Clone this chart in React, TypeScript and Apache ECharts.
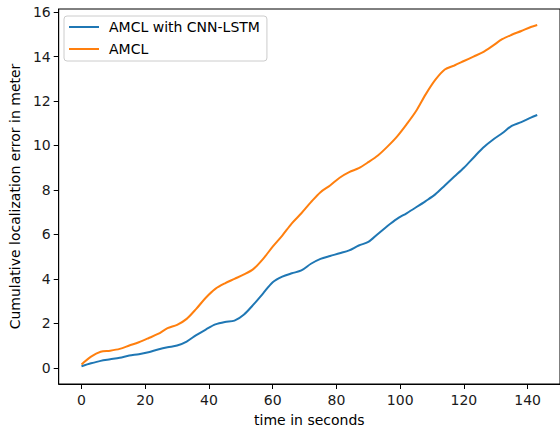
import React, { useEffect, useRef } from "react";
import * as echarts from "echarts";

const times = [0, 3, 6, 9, 12, 15, 18, 21, 24, 27, 30, 33, 36, 39, 42, 45, 48, 51, 54, 57, 60, 63, 66, 69, 72, 75, 78, 81, 84, 87, 90, 93, 96, 99, 102, 105, 108, 111, 114, 117, 120, 123, 126, 129, 132, 135, 138, 141, 143];
const cnnLstm = [0.07, 0.2, 0.31, 0.38, 0.45, 0.55, 0.61, 0.7, 0.82, 0.92, 1.0, 1.18, 1.47, 1.72, 1.95, 2.06, 2.12, 2.4, 2.85, 3.35, 3.85, 4.1, 4.25, 4.38, 4.68, 4.9, 5.03, 5.15, 5.28, 5.5, 5.66, 6.02, 6.38, 6.7, 6.95, 7.22, 7.5, 7.8, 8.2, 8.6, 9.0, 9.45, 9.9, 10.25, 10.55, 10.88, 11.05, 11.25, 11.37];
const amcl = [0.15, 0.5, 0.72, 0.77, 0.85, 1.0, 1.15, 1.33, 1.52, 1.78, 1.93, 2.2, 2.65, 3.15, 3.55, 3.8, 4.0, 4.2, 4.45, 4.9, 5.45, 5.95, 6.5, 6.95, 7.45, 7.9, 8.2, 8.55, 8.8, 8.98, 9.25, 9.55, 9.95, 10.4, 10.95, 11.55, 12.3, 12.95, 13.42, 13.6, 13.8, 14.0, 14.2, 14.48, 14.78, 14.98, 15.15, 15.33, 15.42];
const xTicks = [0, 20, 40, 60, 80, 100, 120, 140];
const yTicks = [0, 2, 4, 6, 8, 10, 12, 14, 16];
const seriesNames = ["AMCL with CNN-LSTM", "AMCL"];

const FONT = "DejaVu Sans";

export default function App() {
  const ref = useRef<HTMLDivElement>(null);
  useEffect(() => {
    if (!ref.current) return;
    const chart = echarts.init(ref.current, undefined, { renderer: "svg" });
    const pair = (vals: number[]) => times.map((t, i) => [t, vals[i]]);
    chart.setOption({
      animation: false,
      backgroundColor: "#ffffff",
      textStyle: { fontFamily: FONT },
      grid: {
        left: 58,
        top: 9,
        bottom: 46,
        right: -3,
        show: true,
        borderColor: "#000",
        borderWidth: 1,
        backgroundColor: "transparent",
      },
      legend: {
        left: 64,
        top: 16,
        orient: "vertical",
        icon: "rect",
        itemWidth: 30,
        itemHeight: 2,
        itemGap: 8,
        padding: [4, 7, 5, 5],
        borderColor: "#cccccc",
        borderWidth: 1,
        borderRadius: 3,
        backgroundColor: "rgba(255,255,255,0.8)",
        textStyle: { fontFamily: FONT, fontSize: 14, color: "#000", padding: [0, 0, 0, 5] },
        data: seriesNames,
      },
      xAxis: {
        type: "value",
        min: -7.15,
        max: 150.15,
        name: "time in seconds",
        nameLocation: "middle",
        nameGap: 29,
        nameTextStyle: { fontFamily: FONT, fontSize: 14, color: "#000" },
        axisLine: { show: true, onZero: false, lineStyle: { color: "#000", width: 1 } },
        axisTick: { show: true, length: 5, customValues: xTicks, lineStyle: { color: "#000" } },
        axisLabel: { customValues: xTicks, fontFamily: FONT, fontSize: 14, color: "#1a1a1a", margin: 9 },
        splitLine: { show: false },
      },
      yAxis: {
        type: "value",
        min: -0.73,
        max: 16.14,
        name: "Cumulative localization error in meter",
        nameLocation: "middle",
        nameGap: 36,
        nameTextStyle: { fontFamily: FONT, fontSize: 14, color: "#000" },
        axisLine: { show: true, onZero: false, lineStyle: { color: "#000", width: 1 } },
        axisTick: { show: true, length: 5, customValues: yTicks, lineStyle: { color: "#000" } },
        axisLabel: { customValues: yTicks, fontFamily: FONT, fontSize: 14, color: "#1a1a1a", margin: 8 },
        splitLine: { show: false },
      },
      series: [
        {
          name: seriesNames[0],
          type: "line",
          data: pair(cnnLstm),
          showSymbol: false,
          smooth: 0.3,
          color: "#1f77b4",
          lineStyle: { width: 2, color: "#1f77b4" },
        },
        {
          name: seriesNames[1],
          type: "line",
          data: pair(amcl),
          showSymbol: false,
          smooth: 0.3,
          color: "#ff7f0e",
          lineStyle: { width: 2, color: "#ff7f0e" },
        },
      ],
    });
    return () => chart.dispose();
  }, []);
  return (
    <div
      ref={ref}
      style={{ position: "fixed", left: 0, top: 0, width: 560, height: 432 }}
    />
  );
}
